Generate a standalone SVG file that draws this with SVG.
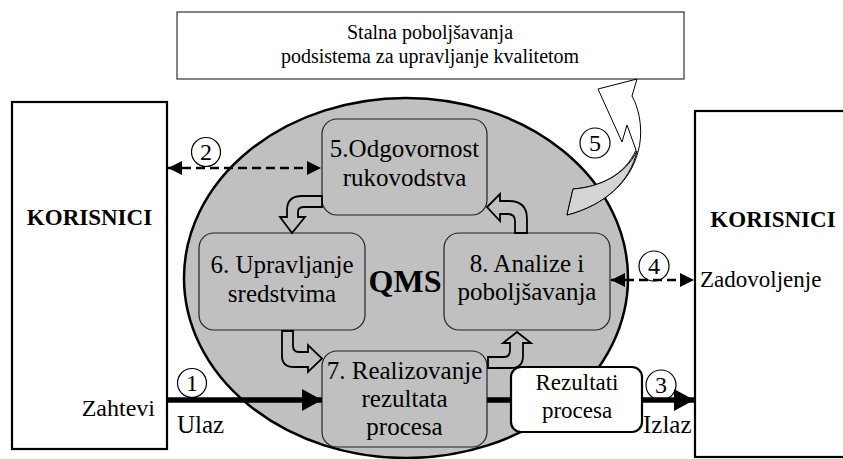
<svg xmlns="http://www.w3.org/2000/svg" width="843" height="459" viewBox="0 0 843 459" font-family="'Liberation Serif', Tinos, 'Times New Roman', 'DejaVu Serif', serif">
<defs>
<style>
.t25{font-size:25px;text-anchor:middle}
.t20{font-size:20px;text-anchor:middle}
.t23{font-size:23px}
.bold{font-weight:bold}
.node{fill:#c0c0c0;stroke:#222;stroke-width:1.2}
.big{fill:#fff;stroke:#000;stroke-width:2.2}
.blk{fill:#c0c0c0;stroke:#000;stroke-width:1.8;stroke-linejoin:miter}
.dash{stroke:#000;stroke-width:2.5;stroke-dasharray:9 5;fill:none}
.thick{stroke:#000;stroke-width:5.5;fill:none}
.circ{fill:none;stroke:#000;stroke-width:1.2}
.num{font-size:24px;text-anchor:middle}
</style>
<marker id="dh" viewBox="0 0 14 14" refX="14" refY="7" markerWidth="14" markerHeight="14" markerUnits="userSpaceOnUse" orient="auto-start-reverse">
<path d="M0,0 L14,7 L0,14 Z" fill="#000"/>
</marker>
<marker id="th" viewBox="0 0 20 22" refX="20" refY="11" markerWidth="20" markerHeight="22" markerUnits="userSpaceOnUse" orient="auto">
<path d="M0,0 L20,11 L0,22 Z" fill="#000"/>
</marker>
</defs>

<g id="qms">
<ellipse cx="406" cy="278" rx="222" ry="180" fill="#c0c0c0" stroke="#000" stroke-width="2.5"/>
<text x="405" y="292" class="bold" font-size="32" text-anchor="middle">QMS</text>
</g>

<g id="improvement">
<rect x="177" y="12" width="507" height="67" fill="#fff" stroke="#333" stroke-width="1.2"/>
<text x="430" y="39" class="t20">Stalna poboljšavanja</text>
<text x="430" y="63" class="t20">podsistema za upravljanje kvalitetom</text>
</g>

<g id="arrow5">
<path d="M598,89 L637,79 L632,96 C641,112 643,135 638,152 C630,182 605,205 567,215 L573,189 C600,187 625,175 636,150 L627,125 L622,142 Z" fill="#fff" stroke="#000" stroke-width="1"/>
<path d="M567,215 L573,189 C600,187 625,175 637,151 C630,182 605,205 567,215 Z" fill="#d4d4d4" stroke="#000" stroke-width="1"/>
</g>

<g id="korisnici-left">
<rect x="12" y="102" width="155" height="347" class="big"/>
<text x="89.5" y="225" class="bold t23" text-anchor="middle">KORISNICI</text>
</g>

<g id="korisnici-right">
<rect x="695" y="111" width="160" height="346" class="big"/>
<text x="773" y="227" class="bold t23" text-anchor="middle">KORISNICI</text>
</g>

<g id="n5">
<rect x="322" y="119" width="165" height="96" rx="15" class="node"/>
<text x="404.5" y="157" class="t25">5.Odgovornost</text>
<text x="404.5" y="186" class="t25">rukovodstva</text>
</g>

<g id="n6">
<rect x="199" y="233" width="166" height="97" rx="15" class="node"/>
<text x="282" y="273" class="t25">6. Upravljanje</text>
<text x="282" y="302" class="t25">sredstvima</text>
</g>

<g id="n8">
<rect x="444" y="233" width="166" height="97" rx="15" class="node"/>
<text x="527" y="272" class="t25">8. Analize i</text>
<text x="527" y="300" class="t25">poboljšavanja</text>
</g>

<g id="n7">
<rect x="322" y="351" width="165" height="96" rx="15" class="node"/>
<text x="404.5" y="379" class="t25">7. Realizovanje</text>
<text x="404.5" y="407" class="t25">rezultata</text>
<text x="404.5" y="435" class="t25">procesa</text>
</g>

<g id="rezultati">
<rect x="511" y="367" width="131" height="65" rx="10" fill="#fff" stroke="#000" stroke-width="2.2"/>
<text x="577" y="390" class="t23" text-anchor="middle">Rezultati</text>
<text x="577" y="418" class="t23" text-anchor="middle">procesa</text>
</g>

<g id="connectors">
<path class="blk" d="M322,196 L302,196 Q287,196 287,210 L287,217 L280,217 L292,233 L305,217 L298,217 L298,212 Q298,207 304,207 L322,207 Z"/>
<path class="blk" d="M282,331 L282,356 Q282,367 294,367 L308,367 L308,372 L322,358.5 L308,345 L308,352 L299,352 Q293,352 293,346 L293,331 Z"/>
<path class="blk" d="M488,357 L504,357 Q510,357 510,350 L510,343 L503,343 L517,332 L531,343 L523,343 L523,356 Q523,368 511,368 L488,368 Z"/>
<path class="blk" d="M515,233 L515,221 Q515,214 508,214 L500,214 L500,221 L487,207 L500,194 L500,201 L509,201 Q527,201 527,219 L527,233 Z"/>
<line x1="168" y1="168" x2="321" y2="168" class="dash" marker-start="url(#dh)" marker-end="url(#dh)"/>
<line x1="611" y1="280" x2="694" y2="280" class="dash" marker-start="url(#dh)" marker-end="url(#dh)"/>
<line x1="167" y1="400" x2="322" y2="400" class="thick" marker-end="url(#th)"/>
<line x1="487" y1="400" x2="511" y2="400" class="thick"/>
<line x1="642" y1="400" x2="694" y2="400" class="thick" marker-end="url(#th)"/>
</g>

<g id="labels">
<circle cx="192" cy="383" r="14.5" class="circ"/><text x="192" y="391" class="num">1</text>
<circle cx="206" cy="152" r="14.5" class="circ"/><text x="206" y="160" class="num">2</text>
<circle cx="661" cy="385" r="15" class="circ"/><text x="661" y="393" class="num">3</text>
<circle cx="654" cy="266" r="15" class="circ"/><text x="654" y="274" class="num">4</text>
<circle cx="595" cy="143" r="15" class="circ"/><text x="595" y="151" class="num">5</text>
<text x="155" y="416" text-anchor="end" font-size="24">Zahtevi</text>
<text x="177" y="433" font-size="25">Ulaz</text>
<text x="643" y="433" font-size="25">Izlaz</text>
<text x="700" y="287" class="t23">Zadovoljenje</text>
</g>
</svg>
